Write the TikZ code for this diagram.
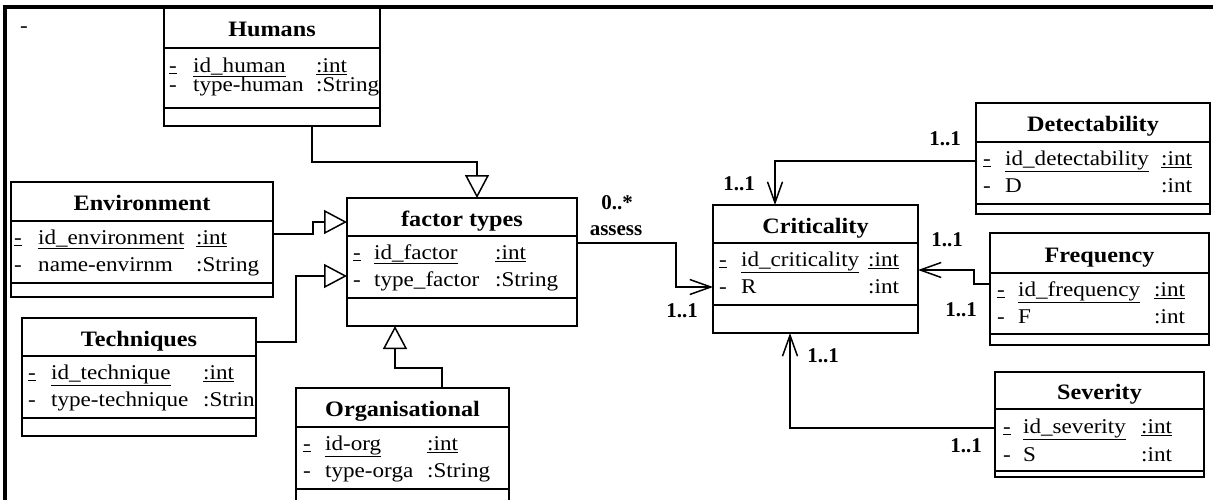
\documentclass[tikz,border=0pt]{standalone}
\usepackage{fontspec}
\setmainfont{Liberation Serif}
\newfontfamily\clsfont[FakeStretch=1.1]{Liberation Serif}
\usetikzlibrary{arrows.meta}
\tikzset{
  clsbox/.style={draw, line width=1.8pt, anchor=north west, inner sep=0pt, outer sep=0pt},
  sepline/.style={line width=1.8pt},
  clstitle/.style={anchor=base, inner sep=0pt, font=\clsfont\bfseries\fontsize{22}{25}\selectfont},
  attr/.style={anchor=base west, inner sep=0pt, font=\clsfont\fontsize{21}{24}\selectfont},
  mult/.style={anchor=center, inner sep=0pt, font=\bfseries\fontsize{21}{24}\selectfont},
  gen/.style={line width=1.5pt, -{Triangle[open, length=23pt, width=24pt, line width=1.5pt]}},
  assoc/.style={line width=1.5pt, -{Straight Barb[length=21pt, width=15pt, line width=1.5pt]}},
  frame/.style={line width=3.5pt},
}
\newcommand\umlcls[8]{%
  \node[clsbox, minimum width={(#4-#2)*1pt}, minimum height={(#7-#3)*1pt}] (#1) at (#2,#3) {};
  \draw[sepline] (#2,#5) -- (#4,#5) (#2,#6) -- (#4,#6);
  \node[clstitle] (#1-title) at ({(#2+#4)/2},{(#3+#5)/2+9}) {#8};
}
\newcommand\attrU[7]{%
  \node[attr] (#1-d) at (#3,#2) {\underline{-}};
  \node[attr] (#1-n) at (#4,#2) {\underline{#6}};
  \node[attr] (#1-ty) at (#5,#2) {\underline{#7}};
}
\newcommand\attrP[7]{%
  \node[attr] (#1-d) at (#3,#2) {-};
  \node[attr] (#1-n) at (#4,#2) {#6};
  \node[attr] (#1-ty) at (#5,#2) {#7};
}
\begin{document}
\begin{tikzpicture}[x=1pt, y=-1pt]
\useasboundingbox (0,0) rectangle (1213,499);
\clip (0,0) rectangle (1213,499);
\fill[white] (0,0) rectangle (1213,499);

% frame
\draw[frame] (5,530) -- (5,7) -- (1240,7);
\node[attr, anchor=base] (topdash) at (24,32) {-};

% classes
\umlcls{hum}{164}{7}{380}{48}{108}{126}{Humans}
\attrU{hum1}{72}{169}{193}{316}{id\_human}{:int}
\attrP{hum2}{91}{169}{193}{316}{type-human}{:String}

\umlcls{env}{11}{182}{273}{221}{283}{297}{Environment}
\attrU{env1}{244}{14}{38}{196}{id\_environment}{:int}
\attrP{env2}{271}{14}{38}{196}{name-envirnm}{:String}

\umlcls{fac}{347}{198}{577}{236}{298}{326}{factor types}
\attrU{fac1}{259}{353}{374}{495}{id\_factor}{:int}
\attrP{fac2}{286}{353}{374}{495}{type\_factor}{:String}

\umlcls{tec}{22}{318}{256}{356}{418}{436}{Techniques}
\begin{scope}
\clip (22,318) rectangle (256,436);
\attrU{tec1}{379}{28}{51}{203}{id\_technique}{:int}
\attrP{tec2}{406}{28}{51}{203}{type-technique}{:Strin}
\end{scope}

\umlcls{org}{296}{388}{509}{427}{489}{520}{Organisational}
\attrU{org1}{450}{303}{325}{427}{id-org}{:int}
\attrP{org2}{477}{303}{325}{427}{type-orga}{:String}

\umlcls{cri}{713}{205}{918}{243}{305}{333}{Criticality}
\attrU{cri1}{266}{719}{741}{868}{id\_criticality}{:int}
\attrP{cri2}{293}{719}{741}{868}{R}{:int}

\umlcls{det}{976}{103}{1210}{142}{204}{214}{Detectability}
\attrU{det1}{165}{983}{1005}{1161}{id\_detectability}{:int}
\attrP{det2}{192}{983}{1005}{1161}{D}{:int}

\umlcls{fre}{990}{233}{1209}{273}{334}{345}{Frequency}
\attrU{fre1}{296}{997}{1018}{1154}{id\_frequency}{:int}
\attrP{fre2}{323}{997}{1018}{1154}{F}{:int}

\umlcls{sev}{995}{372}{1204}{409}{471}{477}{Severity}
\attrU{sev1}{433}{1003}{1023}{1141}{id\_severity}{:int}
\attrP{sev2}{461}{1003}{1023}{1141}{S}{:int}

% bend points
\coordinate (hb1) at (312,162);
\coordinate (hb2) at (477,162);
\coordinate (eb1) at (313,234);
\coordinate (eb2) at (313,222);
\coordinate (tb1) at (296,342);
\coordinate (tb2) at (296,276);
\coordinate (ob1) at (442,368);
\coordinate (ob2) at (395,368);
\coordinate (ab1) at (676,243);
\coordinate (ab2) at (676,287);
\coordinate (db1) at (775,161);
\coordinate (fb1) at (974,284);
\coordinate (fb2) at (974,270);
\coordinate (sb1) at (790,428);

% generalisations
\draw[gen] (hum.south -| hb1) -- (hb1) -- (hb2) -- (fac.north -| hb2);
\draw[gen] (env.east |- eb1) -- (eb1) -- (eb2) -- (fac.west |- eb2);
\draw[gen] (tec.east |- tb1) -- (tb1) -- (tb2) -- (fac.west |- tb2);
\draw[gen] (org.north -| ob1) -- (ob1) -- (ob2) -- (fac.south -| ob2);

% associations
\draw[assoc] (fac.east |- ab1) -- (ab1) -- (ab2) -- (cri.west |- ab2);
\draw[assoc] (det.west |- db1) -- (db1) -- (cri.north -| db1);
\draw[assoc] (fre.west |- fb1) -- (fb1) -- (fb2) -- (cri.east |- fb2);
\draw[assoc] (sev.west |- sb1) -- (sb1) -- (cri.south -| sb1);

% multiplicities
\node[mult] (m1) at (617,203) {0..*};
\node[mult] (m2) at (616,231) {assess};
\node[mult] (m3) at (682,311) {1..1};
\node[mult] (m4) at (945,139) {1..1};
\node[mult] (m5) at (739,184) {1..1};
\node[mult] (m6) at (947,240) {1..1};
\node[mult] (m7) at (961,310) {1..1};
\node[mult] (m8) at (823,356) {1..1};
\node[mult] (m9) at (966,446) {1..1};
\end{tikzpicture}
\end{document}
